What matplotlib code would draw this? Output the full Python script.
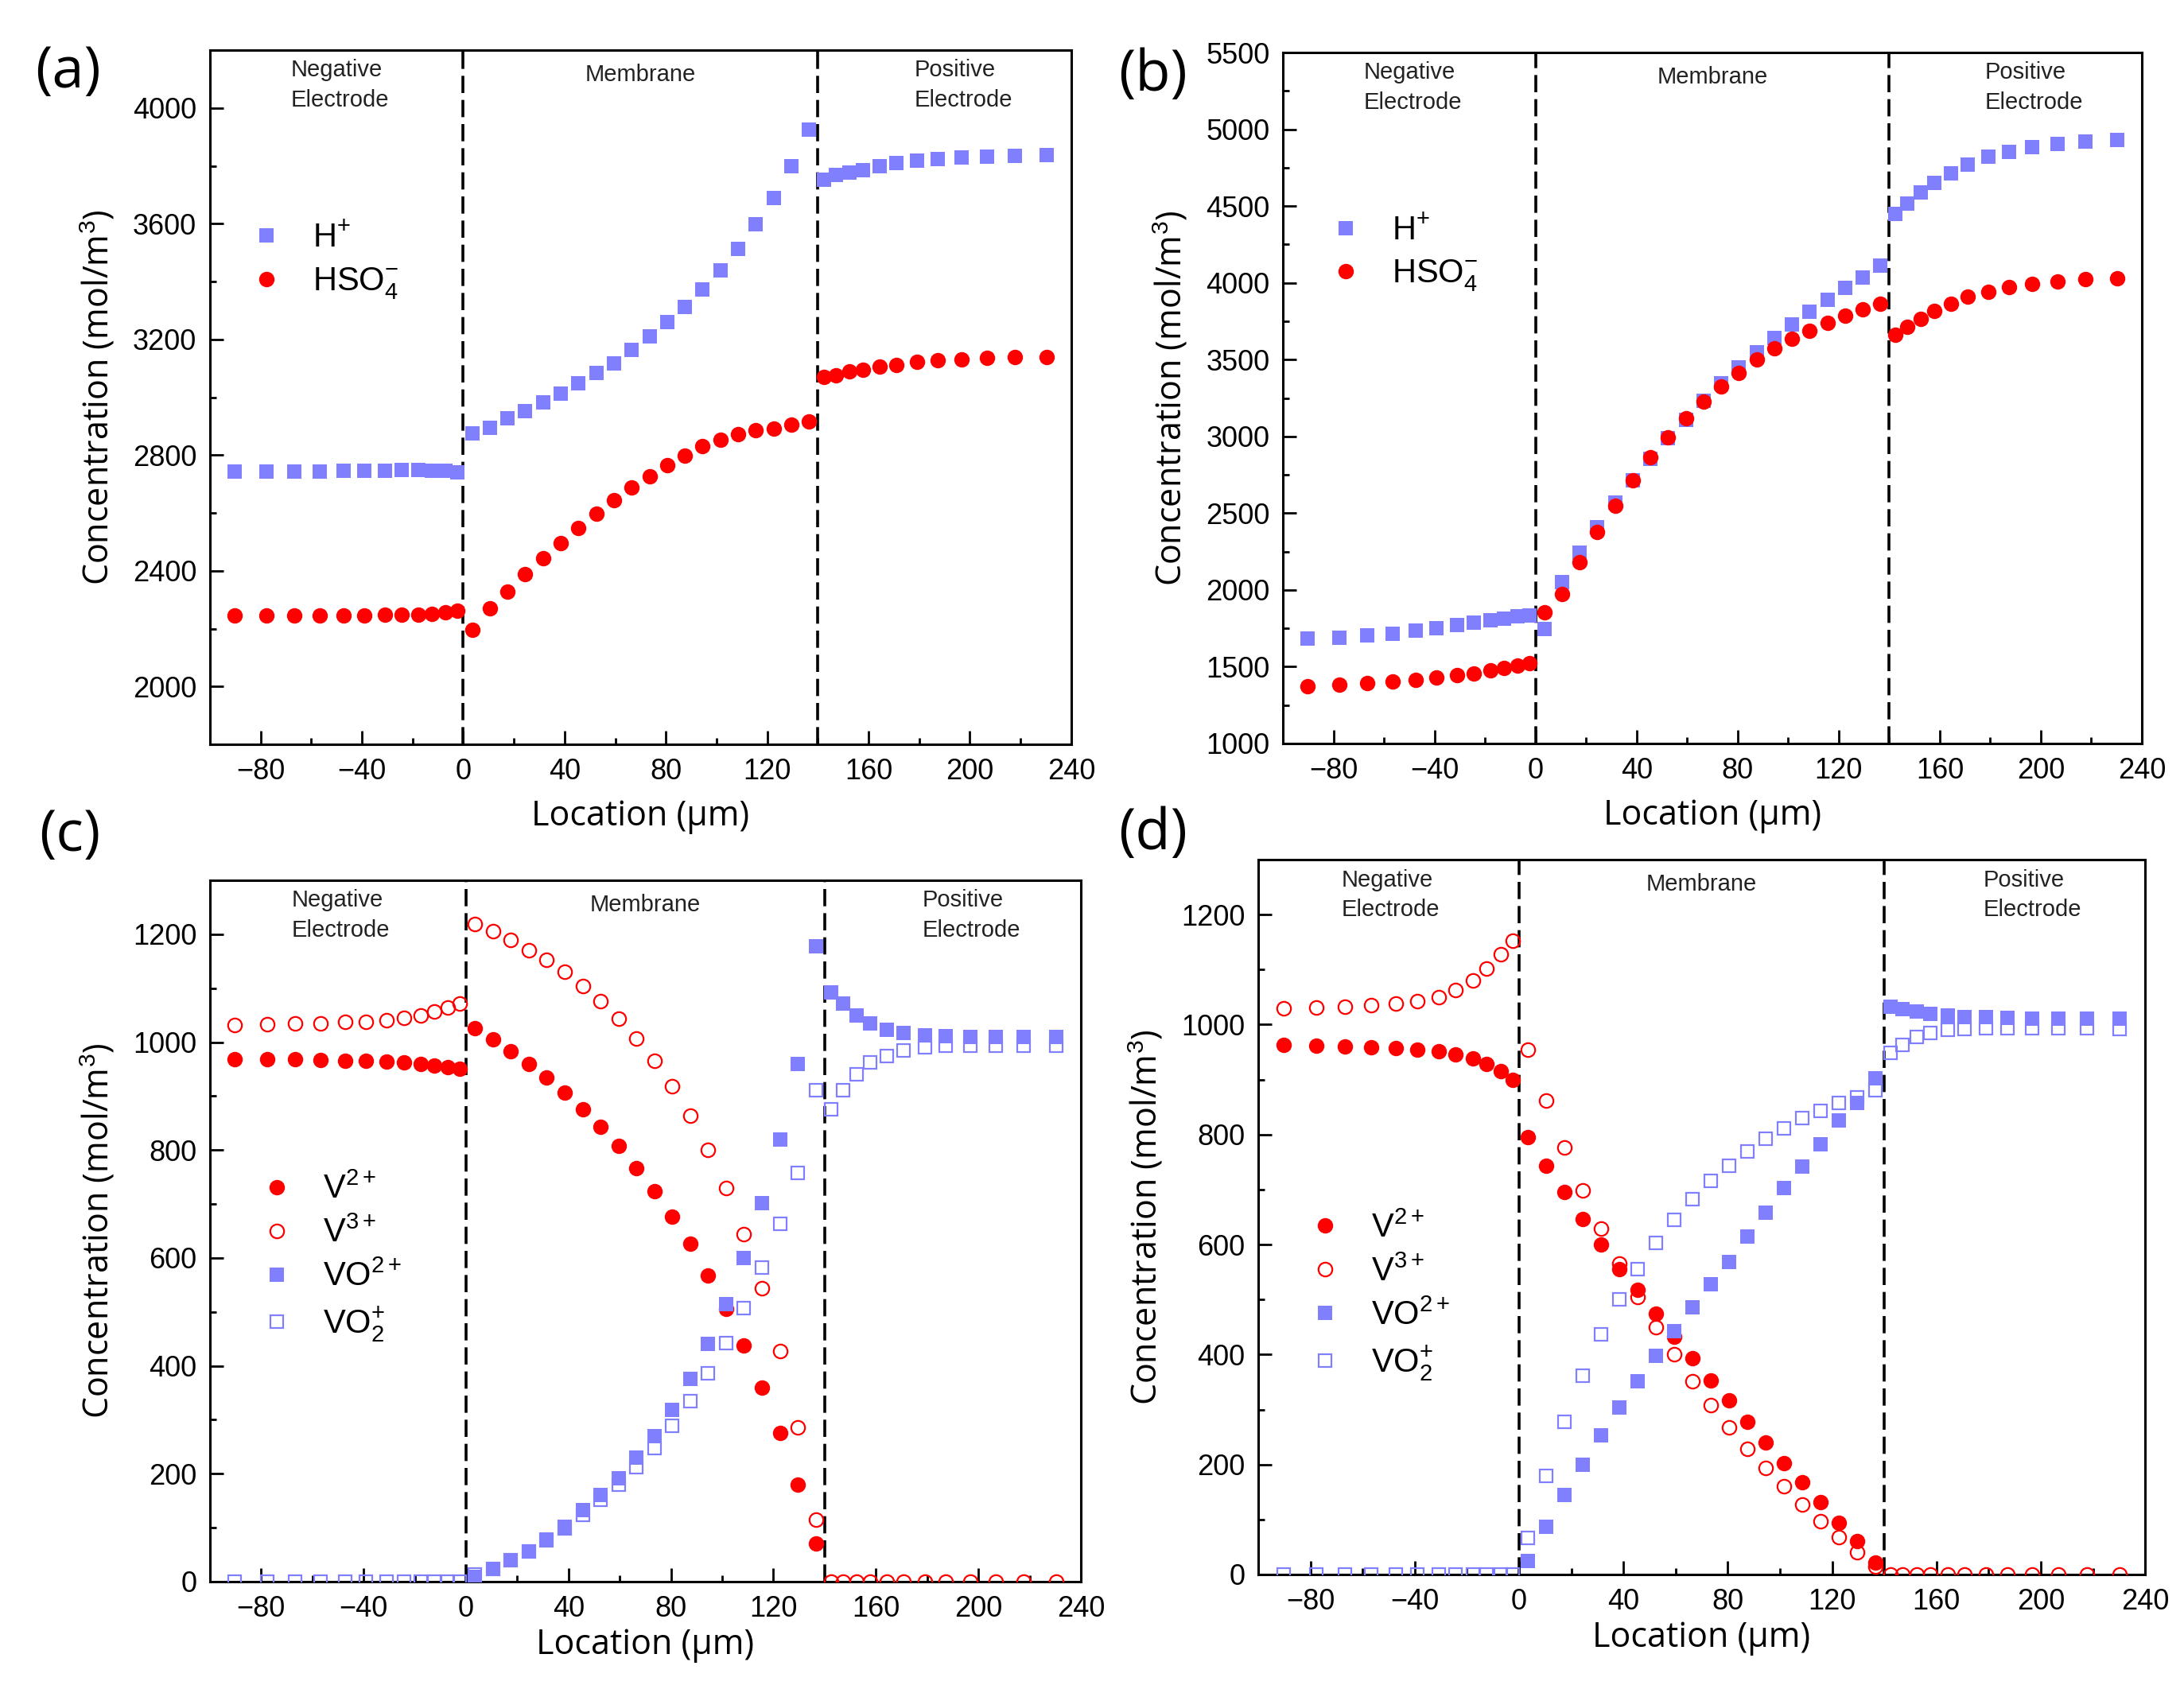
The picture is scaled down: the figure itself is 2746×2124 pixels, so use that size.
import matplotlib
matplotlib.use('Agg')
import matplotlib.pyplot as plt
from matplotlib.ticker import MultipleLocator
from matplotlib.transforms import blended_transform_factory

plt.rcParams['font.family'] = ['Liberation Sans', 'DejaVu Sans']
plt.rcParams['mathtext.fontset'] = 'custom'
plt.rcParams['mathtext.rm'] = 'Liberation Sans'
plt.rcParams['mathtext.it'] = 'Liberation Sans:italic'
plt.rcParams['mathtext.bf'] = 'Liberation Sans:bold'

BLUE = '#8080ff'
RED = '#ff0000'

# cell centres (um): negative electrode, membrane, positive electrode
x_neg = [-90.3, -77.7, -66.7, -56.7, -47.3, -39.1, -30.9, -24.3, -17.7, -12.4, -7.1, -2.4]
x_mem = [3.5, 10.5, 17.5, 24.5, 31.5, 38.5, 45.5, 52.5, 59.5, 66.5,
         73.5, 80.5, 87.5, 94.5, 101.5, 108.5, 115.5, 122.5, 129.5, 136.5]
x_pos = [142.4, 147.1, 152.4, 157.7, 164.3, 170.9, 179.1, 187.3, 196.7, 206.7, 217.7, 230.3]

# (a) H+ / HSO4-
a_h_neg = [2742, 2742, 2743, 2743, 2745, 2746, 2747, 2748, 2748, 2747, 2745, 2741]
a_h_mem = [2876, 2895, 2927, 2951, 2982, 3012, 3047, 3085, 3118, 3164,
           3211, 3261, 3313, 3374, 3439, 3513, 3599, 3690, 3799, 3926]
a_h_pos = [3753, 3768, 3777, 3786, 3799, 3809, 3818, 3824, 3829, 3833, 3835, 3837]
a_s_neg = [2245, 2245, 2245, 2245, 2246, 2246, 2247, 2248, 2249, 2252, 2256, 2263]
a_s_mem = [2195, 2269, 2329, 2388, 2444, 2496, 2548, 2598, 2644, 2687,
           2728, 2765, 2798, 2830, 2852, 2873, 2886, 2891, 2904, 2917]
a_s_pos = [3071, 3077, 3090, 3096, 3105, 3112, 3122, 3127, 3131, 3135, 3138, 3140]

# (b) H+ / HSO4-
b_h_neg = [1682, 1689, 1703, 1717, 1735, 1752, 1770, 1787, 1801, 1815, 1826, 1836]
b_h_mem = [1745, 2053, 2242, 2410, 2568, 2715, 2855, 2987, 3110, 3232,
           3348, 3449, 3547, 3642, 3729, 3810, 3890, 3967, 4037, 4114]
b_h_pos = [4447, 4517, 4587, 4649, 4712, 4772, 4821, 4852, 4884, 4905, 4919, 4929]
b_s_neg = [1371, 1381, 1395, 1406, 1416, 1430, 1444, 1458, 1476, 1493, 1507, 1525]
b_s_mem = [1857, 1973, 2183, 2375, 2550, 2715, 2865, 2994, 3117, 3229,
           3327, 3414, 3502, 3572, 3635, 3687, 3740, 3785, 3827, 3862]
b_s_pos = [3663, 3715, 3764, 3817, 3862, 3908, 3939, 3971, 3992, 4009, 4023, 4030]

# (c) vanadium species
c_v2_neg = [969, 969, 968, 967, 966, 965, 964, 962, 960, 957, 954, 950]
c_v2_mem = [1026, 1005, 983, 959, 935, 906, 876, 843, 807, 767,
            724, 677, 626, 568, 505, 438, 360, 276, 180, 71]
c_v3_neg = [1032, 1033, 1034, 1035, 1037, 1038, 1041, 1045, 1050, 1057, 1064, 1072]
c_v3_mem = [1219, 1205, 1190, 1171, 1152, 1130, 1104, 1076, 1044, 1007,
            965, 918, 864, 801, 730, 644, 544, 427, 286, 115]
c_v3_pos = [0, 0, 0, 0, 0, 0, 0, 0, 0, 0, 0, 0]
c_vo_mem = [8, 23, 39, 56, 78, 102, 133, 161, 192, 230,
            270, 319, 376, 440, 515, 600, 701, 819, 959, 1177]
c_vo_pos = [1092, 1071, 1049, 1034, 1023, 1017, 1013, 1011, 1010, 1010, 1010, 1010]
c_vo2_neg = [0, 0, 0, 0, 0, 0, 0, 0, 0, 0, 0, 0]
c_vo2_mem = [13, 23, 39, 56, 77, 99, 123, 151, 180, 212,
             248, 289, 335, 386, 442, 507, 582, 663, 758, 911]
c_vo2_pos = [876, 911, 940, 962, 974, 985, 990, 993, 993, 993, 993, 993]

# (d) vanadium species
d_v2_neg = [963, 962, 960, 959, 957, 955, 952, 945, 938, 928, 915, 900]
d_v2_mem = [795, 743, 695, 647, 600, 555, 517, 474, 432, 393,
            353, 316, 278, 240, 203, 167, 132, 94, 60, 22]
d_v3_neg = [1030, 1031, 1033, 1035, 1038, 1042, 1050, 1063, 1080, 1102, 1128, 1153]
d_v3_mem = [955, 862, 777, 699, 629, 565, 505, 450, 400, 352,
            308, 267, 229, 194, 160, 127, 97, 68, 40, 15]
d_v3_pos = [0, 0, 0, 0, 0, 0, 0, 0, 0, 0, 0, 0]
d_vo_mem = [25, 87, 145, 200, 253, 303, 351, 398, 443, 486,
            528, 568, 614, 658, 703, 742, 782, 825, 858, 902]
d_vo_pos = [1032, 1028, 1023, 1019, 1016, 1014, 1013, 1012, 1011, 1011, 1011, 1011]
d_vo2_neg = [0, 0, 0, 0, 0, 0, 0, 0, 0, 0, 0, 0]
d_vo2_mem = [67, 180, 278, 362, 436, 500, 555, 603, 645, 682,
             715, 743, 769, 792, 811, 830, 843, 857, 868, 880]
d_vo2_pos = [948, 963, 977, 985, 990, 992, 993, 993, 993, 993, 993, 992]

fig = plt.figure(figsize=(27.46, 21.24), dpi=100)
ax_a = fig.add_axes([0.0961, 0.5593, 0.3944, 0.4110])
ax_b = fig.add_axes([0.5874, 0.5598, 0.3933, 0.4091])
ax_c = fig.add_axes([0.0961, 0.0636, 0.3988, 0.4152])
ax_d = fig.add_axes([0.5761, 0.0678, 0.4061, 0.4233])


def setup(ax, ylim, ymaj, ymin, xpad):
    ax.set_xlim(-100, 240)
    ax.set_ylim(*ylim)
    ax.xaxis.set_major_locator(MultipleLocator(40))
    ax.xaxis.set_minor_locator(MultipleLocator(20))
    ax.yaxis.set_major_locator(MultipleLocator(ymaj))
    ax.yaxis.set_minor_locator(MultipleLocator(ymin))
    ax.tick_params(which='both', direction='in', width=2, labelsize=26, pad=12)
    ax.tick_params(which='major', length=12)
    ax.tick_params(which='minor', length=6)
    for s in ax.spines.values():
        s.set_linewidth(2.2)
    for xv in (0, 140):
        ax.axvline(xv, color='black', lw=2.6, ls=(0, (6, 2.4)), zorder=1)
    tr = blended_transform_factory(ax.transData, ax.transAxes)
    ax.text(-68, 0.987, 'Negative\nElectrode', transform=tr, ha='left', va='top',
            fontsize=21, linespacing=1.45, color='#222222')
    ax.text(70, 0.981, 'Membrane', transform=tr, ha='center', va='top',
            fontsize=21, color='#222222')
    ax.text(178, 0.987, 'Positive\nElectrode', transform=tr, ha='left', va='top',
            fontsize=21, linespacing=1.45, color='#222222')
    ax.set_xlabel('Location (µm)', family='Open Sans', fontsize=31, labelpad=xpad)
    ax.set_ylabel('Concentration (mol/m$^3$)', family='Open Sans', fontsize=31, labelpad=14)


def pts(ax, xs, ys, marker, color, filled, label, ms):
    if filled:
        ax.plot(xs, ys, ls='none', marker=marker, ms=ms, mfc=color, mec=color, mew=0,
                label=label, zorder=3)
    else:
        ax.plot(xs, ys, ls='none', marker=marker, ms=ms - 1.5, mfc='none', mec=color, mew=1.6,
                label=label, zorder=3)


def legend(ax, x, y):
    ax.legend(loc='center left', bbox_to_anchor=(x, y), frameon=False, fontsize=30,
              borderpad=0, borderaxespad=0, handlelength=1.0, handletextpad=0.9,
              labelspacing=0.35, numpoints=1)


# (a)
setup(ax_a, (1800, 4200), 400, 200, 12)
pts(ax_a, x_neg + x_mem + x_pos, a_h_neg + a_h_mem + a_h_pos, 's', BLUE, True, r'H$^{+}$', 13)
pts(ax_a, x_neg + x_mem + x_pos, a_s_neg + a_s_mem + a_s_pos, 'o', RED, True, r'HSO$_4^{-}$', 14)
legend(ax_a, 0.046, 0.695)

# (b)
setup(ax_b, (1000, 5500), 500, 250, 12)
pts(ax_b, x_neg + x_mem + x_pos, b_h_neg + b_h_mem + b_h_pos, 's', BLUE, True, r'H$^{+}$', 13)
pts(ax_b, x_neg + x_mem + x_pos, b_s_neg + b_s_mem + b_s_pos, 'o', RED, True, r'HSO$_4^{-}$', 14)
legend(ax_b, 0.054, 0.708)

# (c)
setup(ax_c, (0, 1300), 200, 100, 4)
pts(ax_c, x_neg + x_mem, c_v2_neg + c_v2_mem, 'o', RED, True, r'V$^{2+}$', 14)
pts(ax_c, x_neg + x_mem + x_pos, c_v3_neg + c_v3_mem + c_v3_pos, 'o', RED, False, r'V$^{3+}$', 14)
pts(ax_c, x_mem + x_pos, c_vo_mem + c_vo_pos, 's', BLUE, True, r'VO$^{2+}$', 13)
pts(ax_c, x_neg + x_mem + x_pos, c_vo2_neg + c_vo2_mem + c_vo2_pos, 's', BLUE, False, r'VO$_2^{+}$', 13)
legend(ax_c, 0.0575, 0.46)

# (d)
setup(ax_d, (0, 1300), 200, 100, 4)
pts(ax_d, x_neg + x_mem, d_v2_neg + d_v2_mem, 'o', RED, True, r'V$^{2+}$', 14)
pts(ax_d, x_neg + x_mem + x_pos, d_v3_neg + d_v3_mem + d_v3_pos, 'o', RED, False, r'V$^{3+}$', 14)
pts(ax_d, x_mem + x_pos, d_vo_mem + d_vo_pos, 's', BLUE, True, r'VO$^{2+}$', 13)
pts(ax_d, x_neg + x_mem + x_pos, d_vo2_neg + d_vo2_mem + d_vo2_pos, 's', BLUE, False, r'VO$_2^{+}$', 13)
legend(ax_d, 0.0565, 0.387)

for lab, (fx, fy) in zip(['(a)', '(b)', '(c)', '(d)'],
                         [(0.031, 0.957), (0.528, 0.955), (0.032, 0.505), (0.528, 0.506)]):
    fig.text(fx, fy, lab, family='Open Sans', fontsize=52, ha='center', va='center')

fig.savefig('out.png', dpi=100)
